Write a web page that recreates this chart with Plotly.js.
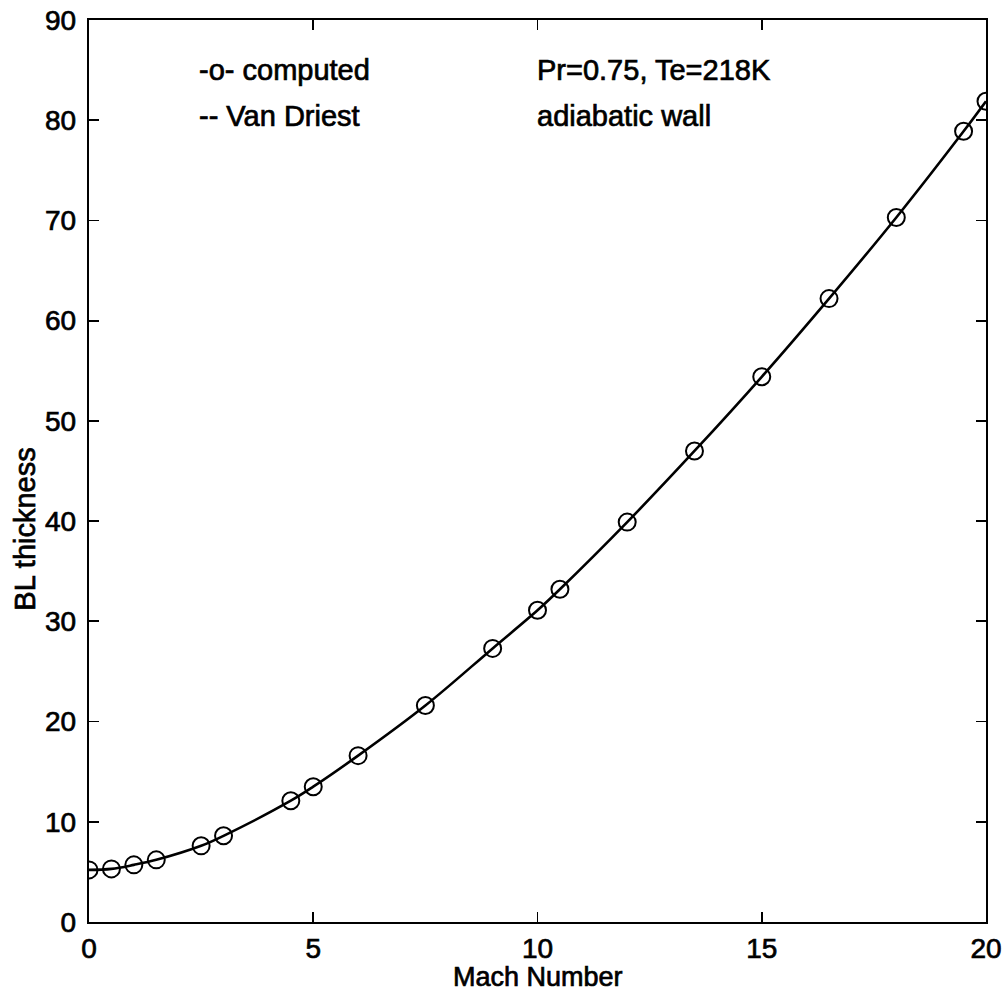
<!DOCTYPE html>
<html>
<head>
<meta charset="utf-8">
<script src="https://cdn.plot.ly/plotly-3.0.1.min.js"></script>
<style>
html,body{margin:0;padding:0;background:#fff;}
#chart{width:1008px;height:995px;}
#chart text{stroke:#000;stroke-width:0.7px;}
</style>
</head>
<body>
<div id="chart"></div>
<script>
// Mach number and computed boundary-layer thickness
const machNumber = [0, 0.5, 1, 1.5, 2.5, 3, 4.5, 5, 6, 7.5, 9, 10, 10.5, 12, 13.5, 15, 16.5, 18, 19.5, 20];
const blThickness = [5.2, 5.3, 5.7, 6.2, 7.6, 8.6, 12.1, 13.5, 16.6, 21.6, 27.3, 31.1, 33.2, 39.9, 47.0, 54.4, 62.2, 70.3, 78.9, 81.9];
const xTicks = [0, 5, 10, 15, 20];
const yTicks = [0, 10, 20, 30, 40, 50, 60, 70, 80, 90];
const labelsLeft = ["-o- computed", "-- Van Driest"];
const labelsRight = ["Pr=0.75, Te=218K", "adiabatic wall"];

const FONT = "Liberation Sans, Arial, Helvetica, sans-serif";

const traces = [
  {
    x: machNumber, y: blThickness, type: "scatter", mode: "lines",
    line: {color: "#000", width: 2.6, shape: "spline", smoothing: 1},
    hoverinfo: "skip", showlegend: false
  },
  {
    x: machNumber, y: blThickness, type: "scatter", mode: "markers",
    marker: {symbol: "circle-open", size: 17, color: "#000", line: {color: "#000", width: 2}},
    showlegend: false
  }
];

const axisCommon = {
  showgrid: false, zeroline: false, showline: true, linecolor: "#000", linewidth: 2.2,
  ticks: "inside", ticklen: 10, tickwidth: 1.8, tickcolor: "#000", mirror: "ticks",
  tickfont: {family: FONT, size: 28, color: "#000"}
};

const annotations = [
  {x: 2.4, y: 85, text: labelsLeft[0]},
  {x: 2.4, y: 80.4, text: labelsLeft[1]},
  {x: 9.95, y: 85, text: labelsRight[0]},
  {x: 9.95, y: 80.4, text: labelsRight[1]}
].map(a => Object.assign(a, {
  xref: "x", yref: "y", xanchor: "left", yanchor: "middle", showarrow: false,
  font: {family: FONT, size: 29, color: "#000"}
}));

annotations.push({
  xref: "x", yref: "paper", x: 10, y: 0, yanchor: "middle", xanchor: "center", yshift: -55,
  text: "Mach Number", showarrow: false, font: {family: FONT, size: 27, color: "#000"}
});
annotations.push({
  xref: "paper", yref: "paper", x: 0, y: 0.435, xanchor: "center", yanchor: "middle", xshift: -64,
  textangle: -90, text: "BL thickness", showarrow: false, font: {family: FONT, size: 29, color: "#000"}
});

const layout = {
  width: 1008, height: 995,
  margin: {l: 89, r: 22, t: 20, b: 73},
  paper_bgcolor: "#fff", plot_bgcolor: "#fff",
  xaxis: Object.assign({}, axisCommon, {range: [0, 20], tickvals: xTicks, ticktext: xTicks.map(String), ticklabelstandoff: 0}),
  yaxis: Object.assign({}, axisCommon, {range: [0, 90], tickvals: yTicks, ticktext: yTicks.map(String), ticklabelstandoff: 5}),
  annotations: annotations,
  showlegend: false
};

Plotly.newPlot("chart", traces, layout, {displayModeBar: false, staticPlot: true});
</script>
</body>
</html>
